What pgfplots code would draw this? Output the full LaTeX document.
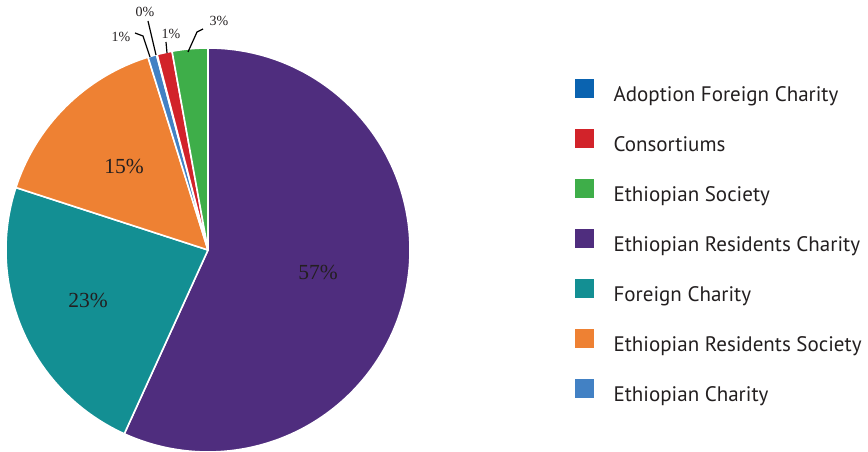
\documentclass[border=0pt]{standalone}
\usepackage{pgfplots}
\pgfplotsset{compat=1.18}
\usepackage{fontspec}
\setmainfont{Liberation Serif}
\newfontfamily\legfont{PT Sans}
\definecolor{cBlue}{HTML}{0A63B0}
\definecolor{cRed}{HTML}{D2232A}
\definecolor{cGreen}{HTML}{3EAE49}
\definecolor{cPurple}{HTML}{4F2D7E}
\definecolor{cTeal}{HTML}{138F93}
\definecolor{cOrange}{HTML}{EE8133}
\definecolor{cLBlue}{HTML}{4281C4}
\definecolor{txt}{HTML}{231F20}
% slice shares (percent), clockwise from 12 o'clock
\def\slices{56.8/cPurple, 23.2/cTeal, 15.2/cOrange, 0.7/cLBlue, 0.05/cBlue, 1.2/cRed, 2.85/cGreen}
\begin{document}
\begin{tikzpicture}
\begin{axis}[
    name=ax,
    x=1pt, y=1pt,
    xmin=0, xmax=868, ymin=0, ymax=452,
    hide axis, clip=false,
    legend style={
        at={(axis cs:572,375)}, anchor=north west,
        draw=none, fill=none,
        font=\legfont\fontsize{21}{23}\selectfont, text=txt,
        nodes={inner sep=0pt, text height=15pt, text depth=5pt},
        row sep=22.3pt,
    },
    legend cell align=left,
    legend image code/.code={\fill[#1] (0pt,-0.5pt) rectangle (18pt,17.5pt); \path (38pt,0pt);},
]
\addlegendimage{cBlue}\addlegendentry{Adoption Foreign Charity}
\addlegendimage{cRed}\addlegendentry{Consortiums}
\addlegendimage{cGreen}\addlegendentry{Ethiopian Society}
\addlegendimage{cPurple}\addlegendentry{Ethiopian Residents Charity}
\addlegendimage{cTeal}\addlegendentry{Foreign Charity}
\addlegendimage{cOrange}\addlegendentry{Ethiopian Residents Society}
\addlegendimage{cLBlue}\addlegendentry{Ethiopian Charity}

\gdef\cur{90}
\foreach \v/\c in \slices {
    \pgfmathsetmacro\en{\cur-3.6*\v}
    \edef\temp{\noexpand\fill[\c, draw=white, line width=1.6pt, line join=round]
        (axis cs:208,202) -- ++(\cur:202pt) arc[start angle=\cur, end angle=\en, radius=202pt] -- cycle;}
    \temp
    \xdef\cur{\en}
}

\node[text=txt, font=\fontsize{21.5}{23}\selectfont] at (axis cs:318,180) {57\%};
\node[text=txt, font=\fontsize{21.5}{23}\selectfont] at (axis cs:88,152) {23\%};
\node[text=txt, font=\fontsize{21.5}{23}\selectfont] at (axis cs:124,286) {15\%};

\draw[black, line width=1.2pt] (axis cs:188,400) -- (axis cs:197,420) -- (axis cs:203,423);
\draw[black, line width=1.2pt] (axis cs:167,399) -- (axis cs:166,410);
\draw[black, line width=1.2pt] (axis cs:156,397) -- (axis cs:148,431);
\draw[black, line width=1.2pt] (axis cs:150,395) -- (axis cs:143,416) -- (axis cs:135,419);
\node[text=txt, font=\fontsize{14}{16}\selectfont] at (axis cs:219,431) {3\%};
\node[text=txt, font=\fontsize{14}{16}\selectfont] at (axis cs:171,418) {1\%};
\node[text=txt, font=\fontsize{14}{16}\selectfont] at (axis cs:145,440) {0\%};
\node[text=txt, font=\fontsize{14}{16}\selectfont] at (axis cs:121,415) {1\%};
\end{axis}
\pgfresetboundingbox
\path[use as bounding box] (ax.south west) rectangle (ax.north east);
\end{tikzpicture}
\end{document}
